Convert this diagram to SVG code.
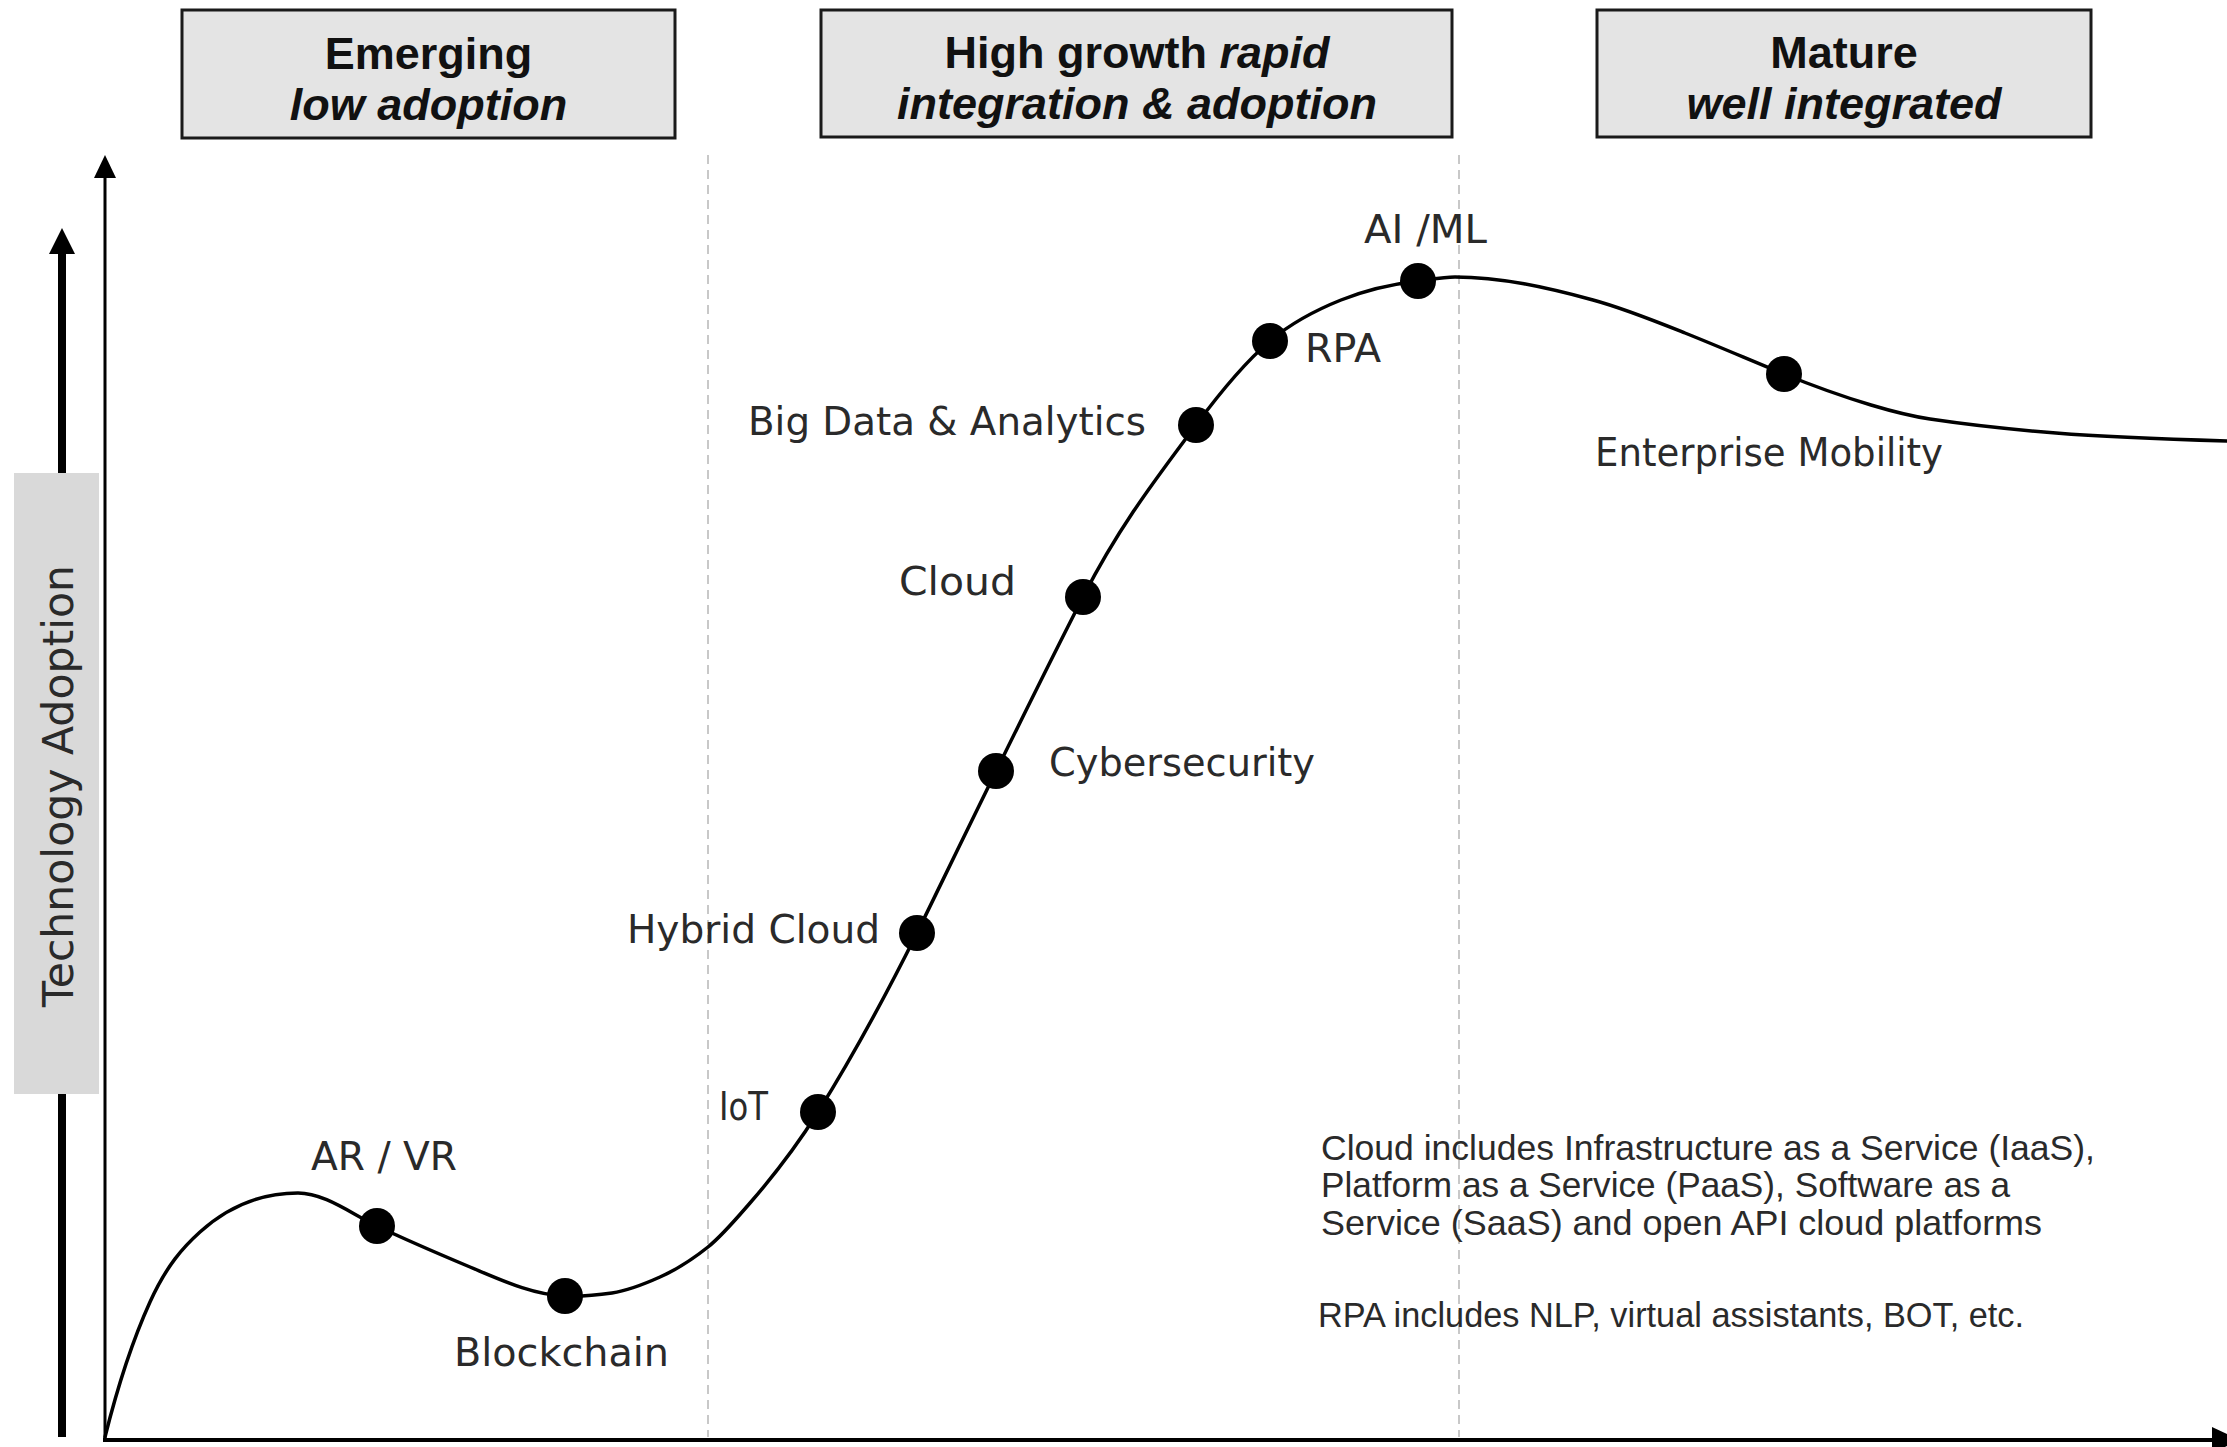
<svg xmlns="http://www.w3.org/2000/svg" width="2227" height="1447" viewBox="0 0 2227 1447">
<style>
.hbox{fill:#e4e4e4;stroke:#1a1a1a;stroke-width:3}
.htxt{font-family:"Liberation Sans",Arial,sans-serif;font-weight:bold;font-size:45px;fill:#111;text-anchor:middle}
.it{font-style:italic}
.lbl{font-family:"DejaVu Sans","Liberation Sans",sans-serif;font-size:39px;fill:#2a2a2a}
.note{font-family:"Liberation Sans",Arial,sans-serif;font-size:35px;fill:#2a2a2a}
.dot{fill:#000}
.dash{stroke:#c8c8c8;stroke-width:2;stroke-dasharray:9 6;fill:none}
.curve{fill:none;stroke:#000;stroke-width:3.5;stroke-linecap:round}
</style>
<rect width="2227" height="1447" fill="#fff"/>

<g id="phase-emerging">
<rect class="hbox" x="182" y="10" width="493" height="128"/>
<text class="htxt" x="428.5" y="69">Emerging</text>
<text class="htxt it" x="428.5" y="120">low adoption</text>
</g>
<g id="phase-growth">
<rect class="hbox" x="821" y="10" width="631" height="127"/>
<text class="htxt" x="1137" y="68">High growth <tspan class="it">rapid</tspan></text>
<text class="htxt it" x="1137" y="119">integration &amp; adoption</text>
</g>
<g id="phase-mature">
<rect class="hbox" x="1597" y="10" width="494" height="127"/>
<text class="htxt" x="1844" y="68">Mature</text>
<text class="htxt it" x="1844" y="119">well integrated</text>
</g>

<g id="dividers">
<line class="dash" x1="708" y1="155" x2="708" y2="1437"/>
<line class="dash" x1="1459" y1="155" x2="1459" y2="1437"/>
</g>

<g id="axes">
<line x1="105" y1="172" x2="105" y2="1441" stroke="#000" stroke-width="3"/>
<polygon points="105,155 94,178 116,178" fill="#000"/>
<line x1="103" y1="1440" x2="2216" y2="1440" stroke="#000" stroke-width="4"/>
<polygon points="2212,1427 2240,1440 2212,1453" fill="#000"/>
</g>

<g id="y-label">
<line x1="62" y1="250" x2="62" y2="474" stroke="#000" stroke-width="8"/>
<polygon points="62,228 49,254 75,254" fill="#000"/>
<line x1="62" y1="1093" x2="62" y2="1437" stroke="#000" stroke-width="8"/>
<rect x="14" y="473" width="85" height="621" fill="#d9d9d9"/>
<text transform="translate(73,786) rotate(-90)" text-anchor="middle" font-family="DejaVu Sans, Liberation Sans, sans-serif" font-size="42" fill="#2a2a2a" textLength="442" lengthAdjust="spacingAndGlyphs">Technology Adoption</text>
</g>

<g id="connectors">
<path class="curve" d="M105,1437 C120,1377 135,1335 150,1302 C166.67,1265.33 183.33,1247 200,1232 C232.67,1202.6 265.33,1193 298,1193 C324.33,1193 350.67,1213.36 377,1226 C408,1240.88 439,1253.98 470,1267 C501.67,1280.3 533.33,1295.05 565,1296 C580.67,1296.47 596.33,1295.35 612,1293 C628,1290.6 644,1284.2 660,1277 C676,1269.8 692,1259.8 708,1247 C722,1235.8 736,1219.1 750,1203 C772.67,1176.93 795.33,1148.27 818,1112 C851,1059.2 884,999 917,933 C972.33,819.57 1027.67,704.9 1083,597 C1120.67,523.55 1158.33,475.85 1196,425 C1220.67,391.7 1245.33,361.97 1270,341 C1293.67,320.88 1317.33,309.47 1341,300 C1366.67,289.73 1392.33,284.08 1418,281 C1430.33,279.52 1442.67,277 1455,277 C1501,277 1547,287.58 1593,300 C1623.67,308.28 1654.33,320.73 1685,333 C1718,346.2 1751,360.47 1784,374 C1813,385.89 1842,396.3 1871,405 C1890.67,410.9 1910.33,416.05 1930,419 C1972,425.3 2014,429.64 2056,433 C2113,437.56 2170,439.29 2227,441"/>
</g>

<g id="node-arvr">
<circle class="dot" cx="377" cy="1226" r="18"/>
<text class="lbl" x="311" y="1170" textLength="146" lengthAdjust="spacingAndGlyphs">AR / VR</text>
</g>
<g id="node-blockchain">
<circle class="dot" cx="565" cy="1296" r="18"/>
<text class="lbl" x="454" y="1366" textLength="215" lengthAdjust="spacingAndGlyphs">Blockchain</text>
</g>
<g id="node-iot">
<circle class="dot" cx="818" cy="1112" r="18"/>
<text class="lbl" x="719" y="1120" textLength="49" lengthAdjust="spacingAndGlyphs">IoT</text>
</g>
<g id="node-hybrid-cloud">
<circle class="dot" cx="917" cy="933" r="18"/>
<text class="lbl" x="627" y="943" textLength="253" lengthAdjust="spacingAndGlyphs">Hybrid Cloud</text>
</g>
<g id="node-cybersecurity">
<circle class="dot" cx="996" cy="771" r="18"/>
<text class="lbl" x="1049" y="776" textLength="266" lengthAdjust="spacingAndGlyphs">Cybersecurity</text>
</g>
<g id="node-cloud">
<circle class="dot" cx="1083" cy="597" r="18"/>
<text class="lbl" x="899" y="595" textLength="117" lengthAdjust="spacingAndGlyphs">Cloud</text>
</g>
<g id="node-bigdata">
<circle class="dot" cx="1196" cy="425" r="18"/>
<text class="lbl" x="748" y="435" textLength="398" lengthAdjust="spacingAndGlyphs">Big Data &amp; Analytics</text>
</g>
<g id="node-rpa">
<circle class="dot" cx="1270" cy="341" r="18"/>
<text class="lbl" x="1305" y="362" textLength="76" lengthAdjust="spacingAndGlyphs">RPA</text>
</g>
<g id="node-aiml">
<circle class="dot" cx="1418" cy="281" r="18"/>
<text class="lbl" x="1364" y="243" textLength="123" lengthAdjust="spacingAndGlyphs">AI /ML</text>
</g>
<g id="node-mobility">
<circle class="dot" cx="1784" cy="374" r="18"/>
<text class="lbl" x="1595" y="466" textLength="348" lengthAdjust="spacingAndGlyphs">Enterprise Mobility</text>
</g>

<g id="notes">
<text class="note" x="1321" y="1160" textLength="774" lengthAdjust="spacingAndGlyphs">Cloud includes Infrastructure as a Service (IaaS),</text>
<text class="note" x="1321" y="1197" textLength="689" lengthAdjust="spacingAndGlyphs">Platform as a Service (PaaS), Software as a</text>
<text class="note" x="1321" y="1235" textLength="721" lengthAdjust="spacingAndGlyphs">Service (SaaS) and open API cloud platforms</text>
<text class="note" x="1318" y="1327" textLength="706" lengthAdjust="spacingAndGlyphs">RPA includes NLP, virtual assistants, BOT, etc.</text>
</g>
</svg>
